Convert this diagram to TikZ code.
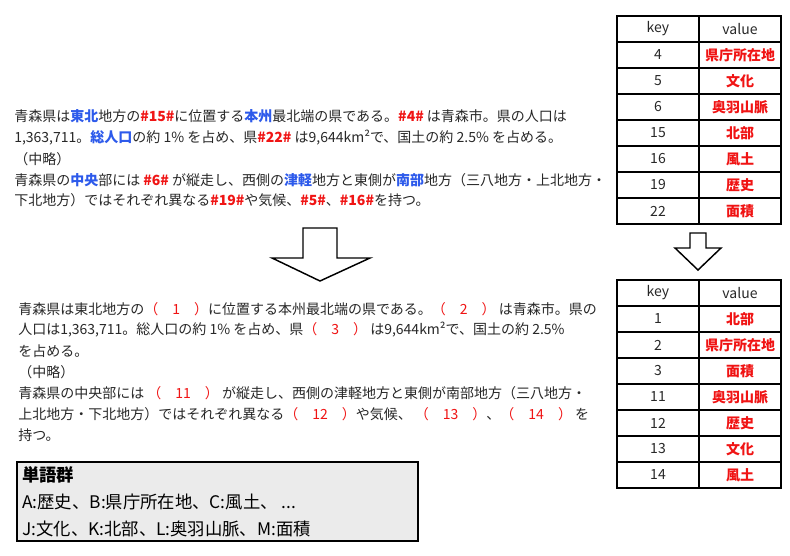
\documentclass[tikz,border=0pt]{standalone}
\usepackage{fontspec}
\setmainfont{Noto Sans CJK JP}
\definecolor{hiblue}{RGB}{45,90,235}
\definecolor{hired}{RGB}{240,20,20}
\definecolor{ink}{RGB}{40,40,40}
\definecolor{boxgray}{RGB}{235,235,235}
\newcommand\blu[1]{\textcolor{hiblue}{\bfseries #1}}
\newcommand\rd[1]{\textcolor{hired}{\bfseries #1}}
\newcommand\kakko[1]{\textcolor{hired}{（　#1　）}}
\tikzset{
  txtline/.style={anchor=west, inner sep=0pt, text=ink, font=\fontsize{10.5}{12}\selectfont},
  cell/.style={inner sep=0pt, text=ink, font=\fontsize{10.5}{12}\selectfont},
  val/.style={cell, text=hired, font=\fontsize{10.5}{12}\selectfont\bfseries},
  tblline/.style={line width=1.5pt},
  bigarrow/.style={line width=1.1pt, line join=miter, fill=white},
}
\begin{document}
\begin{tikzpicture}[x=0.75pt, y=-0.75pt]
  \useasboundingbox[fill=white] (0,0) rectangle (790,556);
  % original text
  \node[txtline] (o1) at (14,116) {青森県は\blu{東北}地方の\rd{\#15\#}に位置する\blu{本州}最北端の県である。\rd{\#4\#} は青森市。県の人口は};
  \node[txtline] (o2) at (14,138) {1,363,711。\blu{総人口}の約 1\% を占め、県\rd{\#22\#} は9,644km²で、国土の約 2.5\% を占める。};
  \node[txtline] (o3) at (14,159) {（中略）};
  \node[txtline] (o4) at (14,180) {青森県の\blu{中央}部には \rd{\#6\#} が縦走し、西側の\blu{津軽}地方と東側が\blu{南部}地方（三八地方・上北地方・};
  \node[txtline] (o5) at (14,200) {下北地方）ではそれぞれ異なる\rd{\#19\#}や気候、\rd{\#5\#}、\rd{\#16\#}を持つ。};
  % question text
  \node[txtline] (q1) at (18,309) {青森県は東北地方の\kakko{1}に位置する本州最北端の県である。\kakko{2} は青森市。県の};
  \node[txtline] (q2) at (18,330) {人口は1,363,711。総人口の約 1\% を占め、県\kakko{3} は9,644km²で、国土の約 2.5\%};
  \node[txtline] (q3) at (18,351) {を占める。};
  \node[txtline] (q4) at (18,372) {（中略）};
  \node[txtline] (q5) at (18,393) {青森県の中央部には \kakko{11} が縦走し、西側の津軽地方と東側が南部地方（三八地方・};
  \node[txtline] (q6) at (18,414) {上北地方・下北地方）ではそれぞれ異なる\kakko{12}や気候、 \kakko{13}、\kakko{14} を};
  \node[txtline] (q7) at (18,435) {持つ。};
  % big arrows
  \draw[bigarrow] (303,228) -- (337,228) -- (337,258) -- (370,258) -- (320,281) -- (272,258) -- (303,258) -- cycle;
  \draw[bigarrow] (690,233) -- (706,233) -- (706,248) -- (721,248) -- (698,270) -- (675,248) -- (690,248) -- cycle;
  % table of the original
  \node[cell] (kh1) at (658,29) {key};
  \node[cell] (vh1) at (740,29) {value};
  \foreach \k/\v [count=\i] in {4/県庁所在地,5/文化,6/奥羽山脈,15/北部,16/風土,19/歴史,22/面積} {
    \node[cell] (ka\i) at (658,{29+26*\i}) {\k};
    \node[val] (va\i) at (740,{29+26*\i}) {\v};
  }
  \draw[tblline] (617,16) rectangle (781,224);
  \foreach \y in {42,68,...,198} \draw[tblline] (617,\y) -- (781,\y);
  \draw[tblline] (699,16) -- (699,224);
  % table of the question
  \node[cell] (kh2) at (658,293) {key};
  \node[cell] (vh2) at (740,293) {value};
  \foreach \k/\v [count=\i] in {1/北部,2/県庁所在地,3/面積,11/奥羽山脈,12/歴史,13/文化,14/風土} {
    \node[cell] (kb\i) at (658,{293+26*\i}) {\k};
    \node[val] (vb\i) at (740,{293+26*\i}) {\v};
  }
  \draw[tblline] (617,280) rectangle (781,488);
  \foreach \y in {306,332,...,462} \draw[tblline] (617,\y) -- (781,\y);
  \draw[tblline] (699,280) -- (699,488);
  % word list
  \draw[fill=boxgray, line width=0.8pt] (17,462) rectangle (418,541);
  \node[txtline, text=black, font=\fontsize{13}{15}\selectfont\bfseries] (w0) at (22,475) {単語群};
  \node[txtline, text=black, font=\fontsize{13}{15}\selectfont] (w1) at (22,502) {A:歴史、B:県庁所在地、C:風土、 ...};
  \node[txtline, text=black, font=\fontsize{13}{15}\selectfont] (w2) at (22,529) {J:文化、K:北部、L:奥羽山脈、M:面積};
\end{tikzpicture}
\end{document}
